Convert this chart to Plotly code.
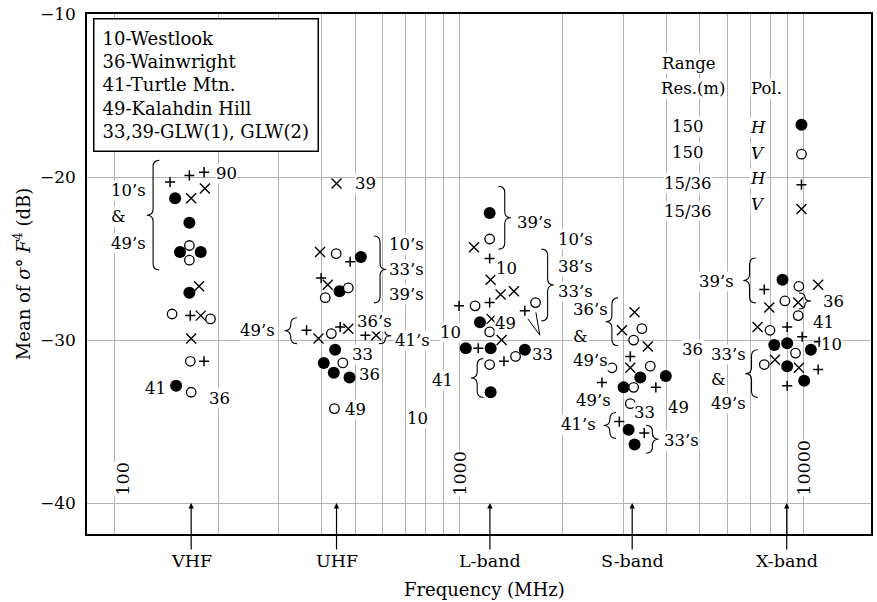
import math
import plotly.graph_objects as go

# Mean sigma0*F^4 (dB) versus frequency (MHz), four range-resolution/polarization series

# 150 m, H polarization (filled circles)
h150_freq = [150, 165, 155, 178, 165, 151,
             519, 450, 437, 405, 433, 481,
             1227, 1150, 1046, 1235, 1552, 1235,
             3356, 3981, 3003, 3105, 3231,
             8682, 8214, 8958, 10491, 8958, 10033]
h150_db = [-21.3, -22.8, -24.6, -24.6, -27.1, -32.8,
           -24.9, -27.0, -30.6, -31.4, -32.0, -32.3,
           -22.2, -28.9, -30.5, -30.5, -30.6, -33.2,
           -32.3, -32.2, -32.9, -35.5, -36.4,
           -26.3, -30.3, -30.2, -30.6, -31.6, -32.5]

# 150 m, V polarization (open circles)
v150_freq = [165, 165, 147, 190, 166, 167,
             440, 477, 409, 426, 460, 435,
             1227, 1113, 1227, 1459, 1227, 1667,
             3392, 3210, 2778, 3588, 3210, 3140,
             9686, 8822, 9641, 7986, 9469, 7687]
v150_db = [-24.2, -25.1, -28.4, -28.7, -31.3, -33.2,
           -24.7, -26.8, -27.4, -29.6, -31.4, -34.2,
           -23.8, -27.9, -29.5, -31.0, -31.5, -27.7,
           -29.3, -30.0, -31.7, -31.6, -32.9, -33.9,
           -26.7, -27.6, -28.5, -29.4, -30.8, -31.5]

# 15/36 m, H polarization (plus)
h15_freq = [145, 165, 182, 166, 182,
            483, 398, 361, 452, 535,
            1227, 1000, 1227, 1137, 1350, 1552,
            3140, 2598, 3724, 2918, 3447,
            7687, 8958, 9901, 11089, 11015, 8958]
h15_db = [-20.3, -19.9, -19.7, -28.5, -31.3,
          -25.2, -26.2, -29.4, -29.2, -29.7,
          -25.0, -27.9, -27.7, -30.5, -31.3, -28.2,
          -31.0, -32.6, -32.9, -35.0, -35.7,
          -26.9, -29.2, -29.8, -30.1, -31.8, -32.8]

# 15/36 m, V polarization (cross)
v15_freq = [183, 167, 176, 178, 167,
            441, 395, 416, 391, 477, 575,
            1105, 1235, 1320, 1443, 1243, 1329,
            3231, 2969, 3531, 3140,
            11015, 7948, 9641, 7349, 8253, 9686]
v15_db = [-20.7, -21.3, -26.7, -28.5, -29.9,
          -20.4, -24.6, -26.6, -29.9, -29.3, -29.7,
          -24.3, -26.3, -27.2, -27.0, -28.7, -30.0,
          -28.3, -29.4, -30.4, -31.7,
          -26.6, -28.0, -27.7, -29.2, -31.2, -31.7]

band_labels = ["VHF", "UHF", "L-band", "S-band", "X-band"]
band_freqs = [167, 441, 1229, 3180, 8930]

decade_labels = ["100", "1000", "10000"]
y_ticks = [-10, -20, -30, -40]

site_key = ["10-Westlook", "36-Wainwright", "41-Turtle Mtn.",
            "49-Kalahdin Hill", "33,39-GLW(1), GLW(2)"]

FONT = "DejaVu Serif"
GRID = "#b3b3b3"
X_RANGE = [1.9204, 4.1954]      # log10(MHz)
Y_RANGE = [-41.894, -10]

grid_vals = [m * 10 ** e for e in (2, 3) for m in range(1, 10)] + [10000]

fig = go.Figure()

style = [
    ("150 m H", h150_freq, h150_db, dict(symbol="circle", size=12, color="black",
                                          line=dict(width=0))),
    ("150 m V", v150_freq, v150_db, dict(symbol="circle", size=9.5, color="white",
                                          line=dict(width=1.3, color="black"))),
    ("15/36 m H", h15_freq, h15_db, dict(symbol="cross-thin", size=7.2, color="black",
                                          line=dict(width=1.5, color="black"))),
    ("15/36 m V", v15_freq, v15_db, dict(symbol="x-thin", size=10, color="black",
                                          line=dict(width=1.4, color="black"))),
]
for name, fx, fy, mk in style:
    fig.add_trace(go.Scatter(x=fx, y=fy, mode="markers", name=name, marker=mk,
                             showlegend=False, hoverinfo="skip"))

# key glyphs of the range-resolution / polarization table (plot-fraction units)
for i, (name, _, _, mk) in enumerate(style):
    fig.add_trace(go.Scatter(x=[0.9113], y=[[0.7868, 0.7305, 0.6718, 0.6251][i]],
                             mode="markers", marker=mk, xaxis="x3", yaxis="y3",
                             showlegend=False, hoverinfo="skip"))

ann = []


def lbl(text, f, db, anchor="center", size=16.5, bg=True):
    ann.append(dict(text=text, x=math.log10(f), y=db, xref="x", yref="y",
                    xanchor=anchor, yanchor="middle", showarrow=False,
                    font=dict(family=FONT, size=size, color="black"),
                    bgcolor="white" if bg else None, borderpad=0))


# annotations for the VHF cluster
lbl("90", 211, -19.78)
for t, d in [("10’s", -20.83), ("&", -22.42), ("49’s", -24.05)]:
    lbl(t, 97.1, d, "left")
lbl("41", 132, -32.94)
lbl("36", 202, -33.61)
# UHF
lbl("39", 534, -20.39)
for t, d in [("10’s", -24.13), ("33’s", -25.66), ("39’s", -27.18)]:
    lbl(t, 623, d, "left")
lbl("49’s", 260, -29.44)
lbl("36’s", 567, -28.83)
lbl("41’s", 731, -30.01)
lbl("33", 523, -30.86)
lbl("36", 549, -32.14)
lbl("49", 502, -34.28)
lbl("10", 757, -34.83)
lbl("10", 946, -29.54)
lbl("41", 895, -32.49)
# L-band
lbl("39’s", 1462, -22.77, "left")
lbl("10", 1377, -25.58)
lbl("49", 1365, -29.00)
lbl("33", 1751, -30.91)
for t, d in [("10’s", -23.84), ("38’s", -25.47), ("33’s", -27.00)]:
    lbl(t, 1921, d, "left")
# S-band
for t, d in [("36’s", -28.12), ("&", -29.75), ("49’s", -31.23)]:
    lbl(t, 2124, d, "left")
lbl("49’s", 2459, -33.71)
lbl("33", 3454, -34.43)
lbl("49", 4334, -34.12)
lbl("41’s", 2225, -35.20)
lbl("33’s", 4430, -36.16)
# X-band
lbl("36", 4756, -30.56)
lbl("39’s", 5593, -26.39)
lbl("36", 12171, -27.65)
lbl("41", 11386, -28.93)
lbl("10", 12035, -30.30)
for t, d in [("33’s", -30.86), ("&", -32.39), ("49’s", -33.91)]:
    lbl(t, 5363, d, "left")

# range-resolution / polarization table
lbl("Range", 4650, -13.06)
lbl("Res.(m)", 4788, -14.59)
lbl("Pol.", 7800, -14.59)
for t, d in [("150", -16.93), ("150", -18.50), ("15/36", -20.39), ("15/36", -22.12)]:
    lbl(t, 4620, d)
for t, d in [("<i>H</i>", -16.99), ("<i>V</i>", -18.56), ("<i>H</i>", -20.08), ("<i>V</i>", -21.67)]:
    lbl(t, 7349, d)

# decade labels written vertically along their grid lines
for t, lx in zip(decade_labels, [2.025, 3.003, 4.0]):
    ann.append(dict(text=t, x=lx, y=-39.63, xref="x", yref="y", textangle=-90,
                    xanchor="center", yanchor="bottom", showarrow=False,
                    font=dict(family=FONT, size=17.5, color="black"),
                    bgcolor="white", borderpad=0))

# band arrows
for t, f in zip(band_labels, band_freqs):
    ann.append(dict(text=t, x=math.log10(f), y=-40, xref="x", yref="y",
                    showarrow=True, ax=0, ay=58, arrowhead=2, arrowsize=0.9,
                    arrowwidth=1.2, arrowcolor="black", standoff=0,
                    font=dict(family=FONT, size=17.5, color="black")))

# site key box
ann.append(dict(text="<br>".join(site_key), xref="paper", yref="paper",
                x=0.008, y=0.9929, xanchor="left", yanchor="top", align="left",
                showarrow=False, bgcolor="white", bordercolor="black",
                borderwidth=1.5, borderpad=8,
                font=dict(family=FONT, size=18, color="black")))

# axis titles
ann.append(dict(text="Frequency (MHz)", xref="paper", yref="paper", x=0.5076,
                y=-0.1073, xanchor="center", yanchor="middle", showarrow=False,
                font=dict(family=FONT, size=18, color="black")))
ann.append(dict(text="Mean of <i>σ</i>° <i>F</i><sup>4</sup> (dB)", xref="paper",
                yref="paper", x=-0.0827, y=0.5, xanchor="center", yanchor="middle",
                textangle=-90, showarrow=False,
                font=dict(family=FONT, size=18, color="black")))

# braces grouping points: (tip frequency, upper dB, lower dB, opening side)
braces = [
    (124.2, -18.98, -25.70, "left"),
    (614.8, -23.62, -27.72, "right"),
    (311.6, -28.63, -30.22, "left"),
    (635.7, -29.25, -30.22, "right"),
    (1414.5, -20.57, -24.42, "right"),
    (1883.6, -24.42, -28.82, "right"),
    (1083.0, -31.14, -33.52, "left"),
    (2664.0, -27.41, -30.35, "left"),
    (2628.5, -34.44, -36.03, "left"),
    (3793.0, -35.23, -36.94, "right"),
    (6682.0, -24.97, -27.72, "left"),
    (10512.0, -27.11, -28.09, "right"),
    (6771.0, -30.59, -33.52, "left"),
]


def brace_path(tip_f, top, bot, side, w=0.036, r=0.38):
    t = math.log10(tip_f)
    s = 1 if side == "left" else -1
    xm, xe = t + s * w / 2, t + s * w
    r = min(r, (top - bot) / 4)
    ym = (top + bot) / 2
    return (f"M{xe},{top} Q{xm},{top} {xm},{top - r} L{xm},{ym + r} "
            f"Q{xm},{ym} {t},{ym} Q{xm},{ym} {xm},{ym - r} "
            f"L{xm},{bot + r} Q{xm},{bot} {xe},{bot}")


shapes = [dict(type="path", path=brace_path(*b), xref="x2", yref="y",
               line=dict(color="black", width=1.1)) for b in braces]

# pointer lines in the L-band group
for f0, d0 in [(1584, -28.7), (1671, -28.3)]:
    shapes.append(dict(type="line", xref="x2", yref="y",
                       x0=math.log10(f0), y0=d0, x1=math.log10(1716), y1=-29.7,
                       line=dict(color="black", width=1)))

fig.update_layout(
    width=877, height=602,
    margin=dict(l=87, r=4, t=12, b=68),
    paper_bgcolor="white", plot_bgcolor="white",
    font=dict(family=FONT, color="black"),
    xaxis=dict(type="log", range=X_RANGE, tickvals=grid_vals, showticklabels=False,
               ticks="", showgrid=True, gridcolor=GRID, gridwidth=1.2,
               showline=True, linecolor="black", linewidth=1.6, mirror=True,
               zeroline=False),
    yaxis=dict(range=Y_RANGE, tickvals=y_ticks, ticks="", ticklabelstandoff=6,
               tickfont=dict(family=FONT, size=17, color="black"),
               showgrid=True, gridcolor=GRID, gridwidth=1.2, zeroline=False,
               showline=True, linecolor="black", linewidth=1.6, mirror=True),
    xaxis2=dict(overlaying="x", range=X_RANGE, visible=False),
    xaxis3=dict(overlaying="x", range=[0, 1], visible=False),
    yaxis3=dict(overlaying="y", range=[0, 1], visible=False),
    annotations=ann,
    shapes=shapes,
)

fig.write_html("out.html")
